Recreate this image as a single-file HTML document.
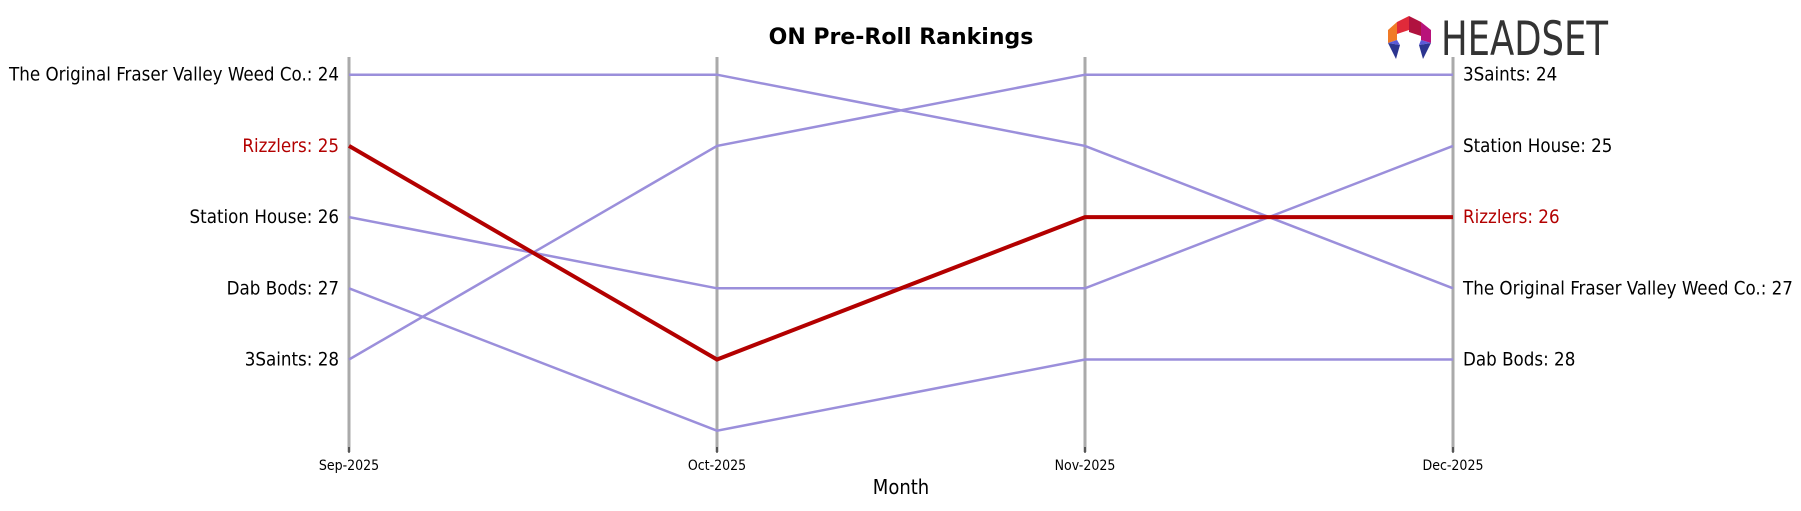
<!DOCTYPE html>
<html><head><meta charset="utf-8"><style>
body{margin:0;background:#fff;width:1801px;height:507px;overflow:hidden;font-family:"DejaVu Sans Condensed","DejaVu Sans","Liberation Sans",sans-serif}
</style></head><body>
<svg id="chart" width="1801" height="507" xmlns="http://www.w3.org/2000/svg" font-family="DejaVu Sans Condensed, DejaVu Sans, sans-serif">
<text x="901" y="44" text-anchor="middle" font-size="22" font-weight="bold" font-family="DejaVu Sans, sans-serif">ON Pre-Roll Rankings</text>
<g>
<polygon points="1409,16 1421,22 1421,36 1409,32" fill="#b0123f"/>
<polygon points="1409,16 1397,22 1397,34 1409,30" fill="#e02a3a"/>
<polygon points="1397,22 1388,30 1388,43 1397,40" fill="#f07a26"/>
<polygon points="1421,22 1431,30 1431,43 1421,40" fill="#b8127a"/>
<polygon points="1388,43 1400,45 1396,59" fill="#2c3590"/>
<polygon points="1431,43 1419,45 1423,59" fill="#2c3590"/>
<polygon points="1388,43 1397,40 1400,45" fill="#5a5ad8"/>
<polygon points="1431,43 1421,40 1419,45" fill="#5a5ad8"/>
<text id="hs" x="0" y="0" font-size="47" fill="#333" font-family="DejaVu Sans Condensed, DejaVu Sans, sans-serif">HEADSET</text>
</g>
<g id="plot"></g>
</svg>
<script>
const months=["Sep-2025","Oct-2025","Nov-2025","Dec-2025"];
const brands=["The Original Fraser Valley Weed Co.","Rizzlers","Station House","Dab Bods","3Saints"];
const rFraser=[24,24,25,27];
const rRizzlers=[25,28,26,26];
const rStation=[26,27,27,25];
const rDab=[27,29,28,28];
const r3Saints=[28,25,24,24];
const ranks=[rFraser,rRizzlers,rStation,rDab,r3Saints];
const highlight="Rizzlers";
const NS="http://www.w3.org/2000/svg";
const hs=document.getElementById('hs');
const hw=hs.getComputedTextLength();
hs.setAttribute('transform','translate(1441,55) scale('+(167/hw)+',1)');
const g=document.getElementById('plot');
const x=i=>349+i*(1453-349)/3;
const y=r=>74.7+(r-24)*71.2;
function el(t,a){const e=document.createElementNS(NS,t);for(const k in a)e.setAttribute(k,a[k]);g.appendChild(e);return e;}
months.forEach((m,i)=>{
 const l=el('line',{x1:x(i),x2:x(i),y1:57,y2:452,stroke:'#aaa','stroke-width':3});
 
 
 const tk=el('line',{x1:x(i),x2:x(i),y1:447,y2:453,stroke:'#000','stroke-width':1});
 
 
 const t=el('text',{x:x(i),y:470,'text-anchor':'middle','font-size':14});
 t.textContent=m;
 
 
});
const mt=el('text',{x:901,y:494,'text-anchor':'middle','font-size':20});
mt.textContent="Month";


const order=brands.map((b,i)=>i).sort((a,b)=>(brands[a]===highlight)-(brands[b]===highlight));
order.forEach(bi=>{
 const b=brands[bi],r=ranks[bi],hl=b===highlight;
 const p=el('polyline',{points:r.map((v,i)=>x(i)+','+y(v)).join(' '),fill:'none',stroke:hl?'#b30000':'#9b8fdb','stroke-width':hl?4:2.5});
 
 
 const c=hl?'#b30000':'#000';
 const lt=el('text',{x:x(0)-10,y:y(r[0])+6,'text-anchor':'end','font-size':18.6,fill:c});
 lt.textContent=b+": "+r[0];
 
 
 const rt=el('text',{x:x(3)+10,y:y(r[3])+6,'text-anchor':'start','font-size':18.6,fill:c});
 rt.textContent=b+": "+r[3];
 
 
});
</script>
</body></html>
